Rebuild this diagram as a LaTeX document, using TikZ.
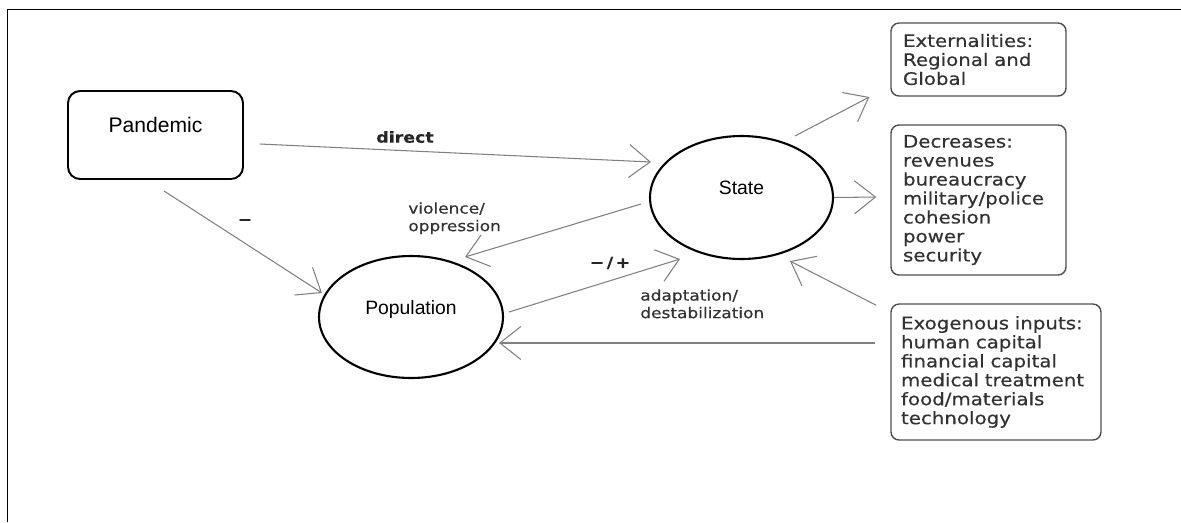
\documentclass[tikz,border=0pt]{standalone}
\usepackage{fontspec}
\setmainfont{Liberation Sans}
\newfontfamily\boxfont[FakeStretch=1.15,FakeBold=0.4]{DejaVu Sans}
\usetikzlibrary{shapes.geometric, arrows.meta, calc}
\definecolor{arrowgray}{RGB}{128,128,128}
\definecolor{boxgray}{RGB}{80,80,80}
\definecolor{textgray}{RGB}{50,50,50}

\begin{document}
\begin{tikzpicture}[x=0.02cm,y=-0.02cm]
			\tikzstyle{pandbox} = [rectangle,rounded corners=0.24cm,draw=black,line width=1.1pt,minimum width=3.5cm,minimum height=1.76cm,text depth=0.39cm,font=\fontsize{12}{14}\selectfont]
			\tikzstyle{oval} = [ellipse,draw=black,line width=1.2pt,inner sep=0pt,text depth=0.4cm,font=\fontsize{11}{13}\selectfont]
			\tikzstyle{listbox} = [rectangle,rounded corners=0.16cm,draw=boxgray,line width=0.8pt,align=left,inner xsep=0.24cm,text width=3.02cm,minimum width=3.5cm,text=textgray,font=\boxfont\fontsize{9.8}{10.8}\selectfont]
			\tikzstyle{edge} = [draw=arrowgray,line width=0.6pt,-{Straight Barb[length=0.42cm,width=0.66cm]}]
			\tikzstyle{lbl} = [text=textgray,inner sep=0pt,align=left,font=\boxfont\fontsize{8.4}{10}\selectfont]
			\tikzstyle{sign} = [text=black!85,inner sep=0pt,font=\boxfont\bfseries\fontsize{8.6}{10}\selectfont]
			\useasboundingbox (0,0) rectangle (1181,522);
			\draw[line width=0.8pt] (7.5,522) -- (7.5,9.5) -- (1181,9.5);
			\node[pandbox] (pand) at (155.5,135) {Pandemic};
			\node[oval,minimum width=3.66cm,minimum height=2.46cm] (state) at (741.5,197.5) {State};
			\node[oval,minimum width=3.68cm,minimum height=2.44cm] (pop) at (411,317) {Population};
			\node[listbox,minimum height=1.46cm] (ext) at (978.5,59.5) {Externalities:\\Regional and\\Global};
			\node[listbox,minimum height=3.0cm] (dec) at (978.5,200) {Decreases:\\revenues\\bureaucracy\\military/police\\cohesion\\power\\security};
			\node[listbox,minimum height=2.72cm,minimum width=4.2cm,inner xsep=0.2cm,text width=3.8cm] (exo) at (996,372) {Exogenous inputs:\\human capital\\financial capital\\medical treatment\\food/materials\\technology};
			\draw[edge] ($(pand.east)+(16,9)$) -- ($(state.west)+(2,-35.5)$);
			\draw[edge] ($(pand.south)+(8.5,11)$) -- ($(pop.west)+(4,-24)$);
			\draw[edge] ($(state.west)+(-8,6.5)$) -- ($(pop.north)+(54,2)$);
			\draw[edge] ($(pop.east)+(5,-5)$) -- ($(state.south)+(-61.5,-1)$);
			\draw[edge] ($(exo.west)+(-15,-29)$) -- ($(pop.east)+(-5,26)$);
			\draw[edge] ($(exo.north west)+(-14,2)$) -- ($(state.south)+(48.5,1)$);
			\draw[edge] ($(state.north)+(53.5,1)$) -- ($(ext.west)+(-21,37.5)$);
			\draw[edge] (state.east) -- ($(dec.west)+(-14,-3)$);
			\node[sign] (ldirect) at (405,137) {direct};
			\node[sign] (lminus) at (245,222) {−};
			\node[lbl,anchor=north west] (lviolence) at (408,202) {violence/\\oppression};
			\node[sign] (lmixed) at (610,263) {−\,/\,+};
			\node[lbl,anchor=north west] (ladapt) at (640,289) {adaptation/\\destabilization};
\end{tikzpicture}
\end{document}
